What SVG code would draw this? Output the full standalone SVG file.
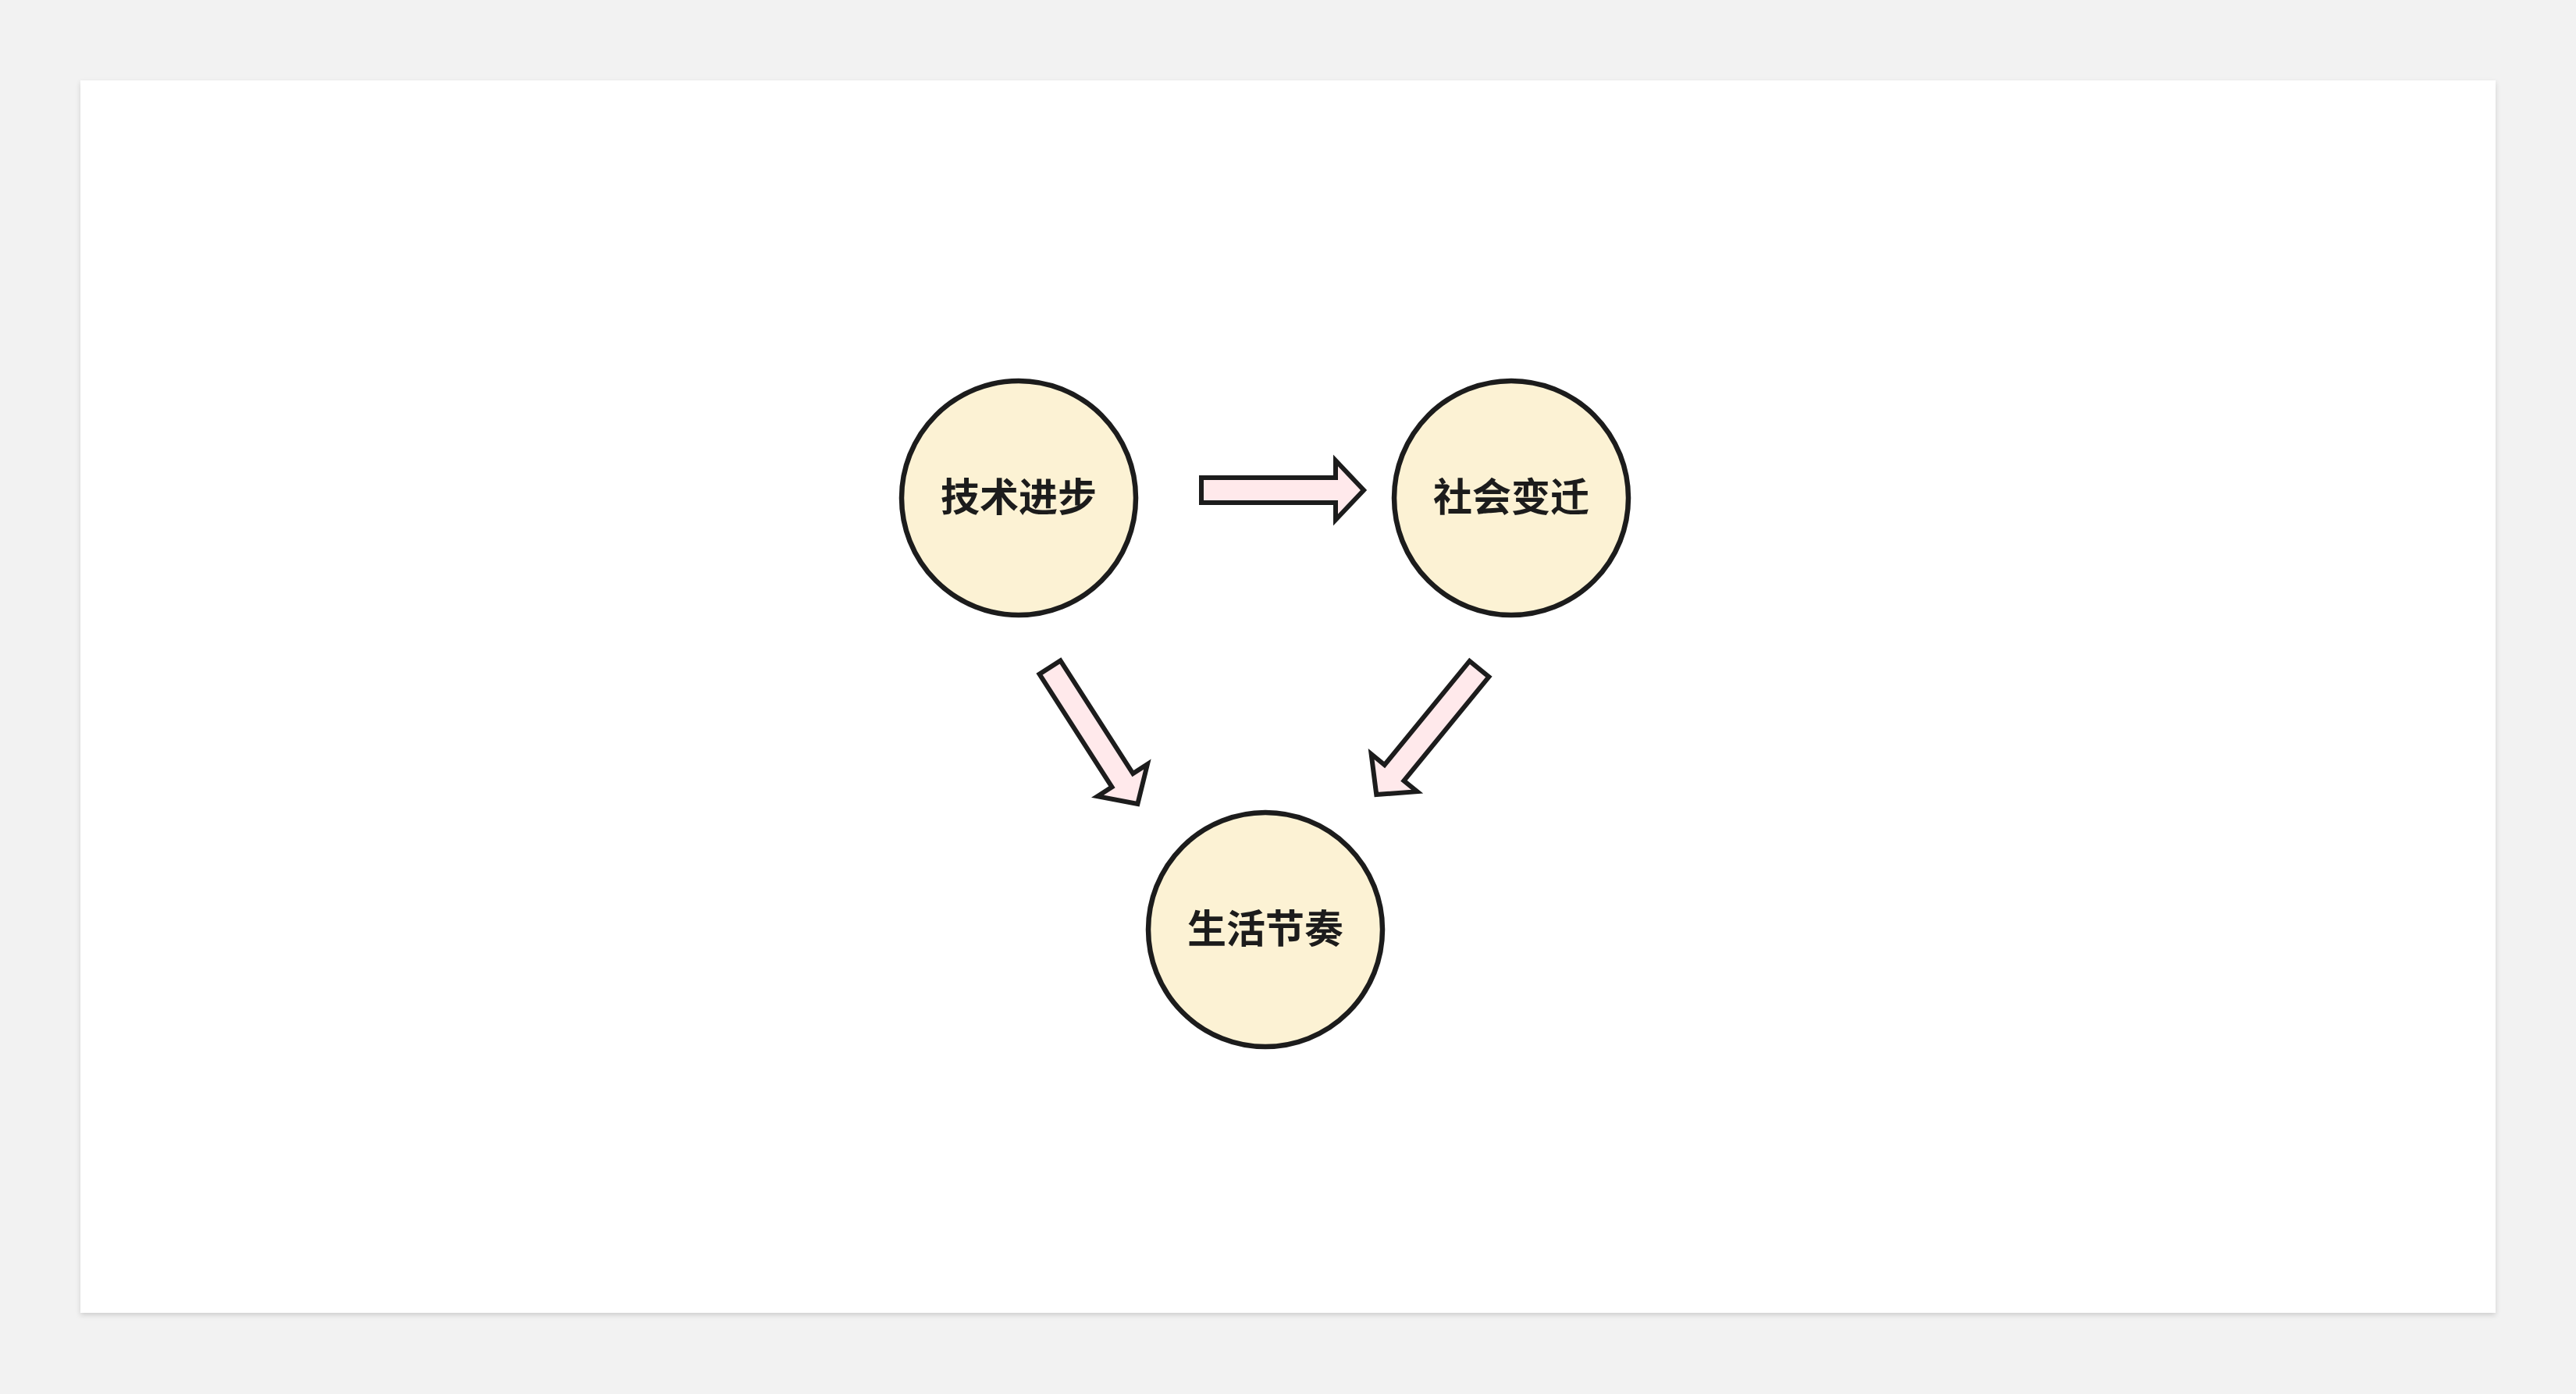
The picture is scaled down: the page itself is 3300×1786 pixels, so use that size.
<svg xmlns="http://www.w3.org/2000/svg" width="3300" height="1786" viewBox="0 0 3300 1786">
<defs>
<filter id="sh" x="-5%" y="-5%" width="110%" height="110%">
<feDropShadow dx="0" dy="3" stdDeviation="3" flood-color="#000" flood-opacity="0.15"/>
</filter>
<path id="arr" d="M0,-16 L172,-16 L172,-38 L208,0 L172,38 L172,16 L0,16 Z"/>
</defs>
<style>
.node{fill:#FCF2D4;stroke:#1C1C1C;stroke-width:6.5}
.lbl{font-family:"Noto Sans CJK SC","Noto Sans",sans-serif;font-weight:bold;font-size:50px;fill:#1C1C1C;text-anchor:middle;dominant-baseline:central}
.ar{fill:#FFE9EB;stroke:#1C1C1C;stroke-width:6;stroke-miterlimit:10}
</style>
<rect width="3300" height="1786" fill="#F2F2F2"/>
<rect x="103" y="103" width="3094" height="1579" fill="#FFFFFF" filter="url(#sh)"/>
<g id="connectors">
<use href="#arr" class="ar" transform="translate(1539,628) rotate(0)"/>
<use href="#arr" class="ar" transform="translate(1345,855) rotate(57.3)"/>
<use href="#arr" class="ar" transform="translate(1895,857) rotate(129.3)"/>
</g>
<g id="node-tech">
<circle class="node" cx="1305" cy="638" r="150"/>
<text class="lbl" x="1305" y="633">技术进步</text>
</g>
<g id="node-society">
<circle class="node" cx="1936" cy="638" r="150"/>
<text class="lbl" x="1936" y="633">社会变迁</text>
</g>
<g id="node-life">
<circle class="node" cx="1621" cy="1191" r="150"/>
<text class="lbl" x="1621" y="1186">生活节奏</text>
</g>
</svg>
